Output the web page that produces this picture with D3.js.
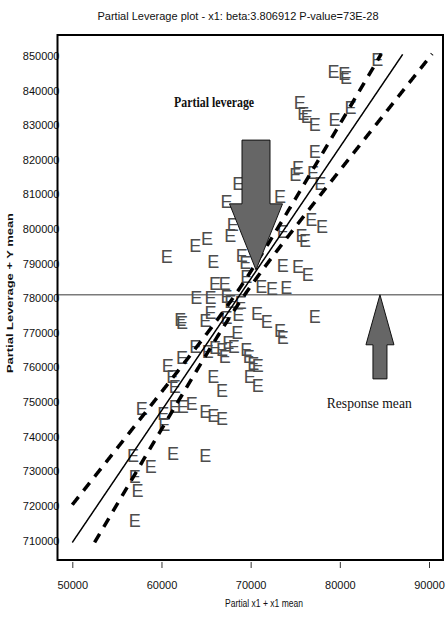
<!DOCTYPE html>
<html>
<head>
<meta charset="utf-8">
<script src="https://cdn.jsdelivr.net/npm/d3@7"></script>
<style>
  html, body { margin: 0; padding: 0; background: #fff; }
  svg { display: block; }
</style>
</head>
<body>
<svg id="chart" width="446" height="618"></svg>
<script>
// Partial leverage plot for x1: each observation is drawn as an "E".
const title = "Partial Leverage plot - x1: beta:3.806912 P-value=73E-28";
const xTitle = "Partial x1 + x1 mean";
const yTitle = "Partial Leverage + Y mean";

const beta = 3.806912;   // fitted slope
const xMean = 68800;     // mean of x1
const yMean = 781000;    // response mean
const bandAtMean = 2000; // half width of the confidence band at the means
const slopeSpread = 0.57;

const xTicks = [50000, 60000, 70000, 80000, 90000];
const yTicks = [710000, 720000, 730000, 740000, 750000, 760000, 770000,
                780000, 790000, 800000, 810000, 820000, 830000, 840000, 850000];

const partialX = [
  84200, 79300, 80500, 80700, 81200, 75500, 75900, 76300, 77200, 79400,
  77200, 75300, 75000, 77000, 77800, 73300, 76800, 78000, 73600, 75700,
  76100, 73600, 75300, 76400, 71200, 72400, 74000, 68600, 67300, 68000,
  67700, 65100, 63800, 60600, 65800, 69000, 69400, 66000, 67100, 69500,
  63900, 65500, 67300, 67700, 68900, 70700, 62100, 62300, 65500, 64900,
  67300, 68600, 68500, 63800, 65200, 66000, 66800, 67500, 67100, 68100,
  69500, 69800, 70300, 70800, 60700, 62300, 61200, 61500, 65800, 66800,
  69900, 70800, 57800, 61500, 62400, 63400, 60200, 60300, 64900, 65800,
  66800, 56800, 58800, 61300, 64900, 57000, 57300, 57000, 71800, 73300,
  73600, 77200
];
const partialY = [
  848800, 845400, 844800, 843600, 835000, 836400, 833200, 832400, 830100, 831500,
  822300, 817600, 815600, 816200, 813000, 809300, 802600, 800600, 799100, 798000,
  796500, 789300, 789000, 786700, 783200, 782700, 783000, 813000, 807800, 801200,
  798000, 797100, 795100, 791900, 790500, 792200, 790200, 784100, 784100, 786100,
  780100, 780100, 780400, 778900, 778600, 775400, 773700, 772800, 775700, 773400,
  774300, 775100, 769900, 765900, 764500, 765600, 765000, 767100, 763000, 765900,
  765000, 763000, 761000, 760400, 760400, 762700, 757200, 754300, 757200, 753200,
  757200, 754600, 748000, 748600, 748600, 749400, 746500, 743400, 747100, 746000,
  745100, 734400, 731200, 735000, 734400, 728300, 724300, 715600, 773100, 770500,
  768500, 774600
];

// Annotation arrows: label, tip and tail in data units
const arrowLabels = ["Partial leverage", "Response mean"];
const arrowX = [70600, 84500];
const arrowTipY = [788200, yMean];
const arrowTailY = [825700, 756700];
const labelX = [65900, 83300];
const labelY = [835300, 748300];

const svg = d3.select("#chart");
const W = 446, H = 618;
const frame = { left: 57.5, top: 35, right: 443, bottom: 560 };

const x = d3.scaleLinear().domain([50000, 90000]).range([72.3, 429]);
const y = d3.scaleLinear().domain([710000, 850000]).range([540.5, 56]);

// Title
svg.append("text")
  .attr("x", 238).attr("y", 20)
  .attr("text-anchor", "middle")
  .attr("font-family", "Liberation Sans, Arial, sans-serif")
  .attr("font-size", 11)
  .attr("textLength", 281).attr("lengthAdjust", "spacingAndGlyphs")
  .attr("fill", "#111")
  .text(title);

// Response mean reference line
svg.append("line")
  .attr("x1", frame.left).attr("x2", frame.right)
  .attr("y1", y(yMean)).attr("y2", y(yMean))
  .attr("stroke", "#7a7a7a").attr("stroke-width", 1.5);

// Observations
svg.append("g")
  .selectAll("text")
  .data(d3.range(partialX.length))
  .join("text")
  .attr("x", i => x(partialX[i]))
  .attr("y", i => y(partialY[i]))
  .attr("text-anchor", "middle")
  .attr("dominant-baseline", "central")
  .attr("font-family", "Liberation Sans, Arial, sans-serif")
  .attr("font-size", 18)
  .attr("fill", "#4d4d4d")
  .text("E");

// Fitted line and confidence curves
const yLo = 709400, yHi = 850600;
const grid = d3.range(48000, 92001, 50);
const fit = v => yMean + beta * (v - xMean);
const half = v => Math.sqrt(bandAtMean * bandAtMean + Math.pow(slopeSpread * (v - xMean), 2));
const curves = [
  { f: fit, dash: null, w: 1.5 },
  { f: v => fit(v) + half(v), dash: "10,8", w: 3.5 },
  { f: v => fit(v) - half(v), dash: "10,8", w: 3.5 }
];
const lineGen = d3.line().x(d => x(d[0])).y(d => y(d[1]));
curves.forEach(c => {
  const pts = grid.filter(v => v >= 50000).map(v => [v, c.f(v)]).filter(p => p[1] >= yLo && p[1] <= yHi);
  svg.append("path")
    .attr("d", lineGen(pts))
    .attr("fill", "none")
    .attr("stroke", "#000")
    .attr("stroke-width", c.w)
    .attr("stroke-dasharray", c.dash);
});

// Arrows
const arrowShape = [
  { shaft: 14, head: 26.5, headLen: 66 },
  { shaft: 7, head: 14, headLen: 50 }
];
arrowLabels.forEach((lab, i) => {
  const cx = x(arrowX[i]);
  const tip = y(arrowTipY[i]);
  const tail = y(arrowTailY[i]);
  const dir = tail < tip ? 1 : -1; // 1 = pointing down
  const s = arrowShape[i];
  const base = tip - dir * s.headLen;
  const pts = [
    [cx - s.shaft, tail], [cx + s.shaft, tail], [cx + s.shaft, base],
    [cx + s.head, base], [cx, tip], [cx - s.head, base], [cx - s.shaft, base]
  ];
  svg.append("polygon")
    .attr("points", pts.map(p => p.join(",")).join(" "))
    .attr("fill", "#666")
    .attr("stroke", "#111")
    .attr("stroke-width", 1);
  svg.append("text")
    .attr("x", x(labelX[i])).attr("y", y(labelY[i]))
    .attr("text-anchor", "middle")
    .attr("font-family", "Liberation Serif, Times New Roman, serif")
    .attr("font-size", i === 0 ? 14 : 15)
    .attr("font-weight", i === 0 ? "bold" : "normal")
    .attr("textLength", i === 0 ? 80 : 85).attr("lengthAdjust", "spacingAndGlyphs")
    .attr("fill", "#111")
    .text(lab);
});

// Axes
const xAxis = svg.append("g")
  .attr("transform", `translate(0,${frame.bottom + 2})`)
  .call(d3.axisBottom(x).tickValues(xTicks).tickSize(6).tickPadding(13).tickFormat(d3.format("d")));
xAxis.select(".domain").remove();
xAxis.selectAll("line").attr("stroke", "#333");
xAxis.selectAll("text")
  .attr("font-family", "Liberation Sans, Arial, sans-serif")
  .attr("font-size", 11).attr("fill", "#111");

const yAxis = svg.append("g")
  .attr("transform", `translate(${frame.left + 2},0)`)
  .call(d3.axisLeft(y).tickValues(yTicks).tickSize(0).tickPadding(0).tickFormat(d3.format("d")));
yAxis.select(".domain").remove();
yAxis.selectAll("text")
  .attr("font-family", "Liberation Sans, Arial, sans-serif")
  .attr("font-size", 11).attr("fill", "#111");

// Frame
svg.append("rect")
  .attr("x", frame.left).attr("y", frame.top)
  .attr("width", frame.right - frame.left).attr("height", frame.bottom - frame.top)
  .attr("fill", "none").attr("stroke", "#000").attr("stroke-width", 2);

// Axis titles
svg.append("text")
  .attr("x", 264).attr("y", 607)
  .attr("text-anchor", "middle")
  .attr("font-family", "Liberation Sans, Arial, sans-serif")
  .attr("font-size", 11)
  .attr("textLength", 78).attr("lengthAdjust", "spacingAndGlyphs")
  .attr("fill", "#111")
  .text(xTitle);

svg.append("text")
  .attr("transform", "translate(13,293) rotate(-90)")
  .attr("text-anchor", "middle")
  .attr("font-family", "Liberation Sans, Arial, sans-serif")
  .attr("font-size", 9).attr("font-weight", "bold")
  .attr("textLength", 160).attr("lengthAdjust", "spacingAndGlyphs")
  .attr("fill", "#111")
  .text(yTitle);
</script>
</body>
</html>
